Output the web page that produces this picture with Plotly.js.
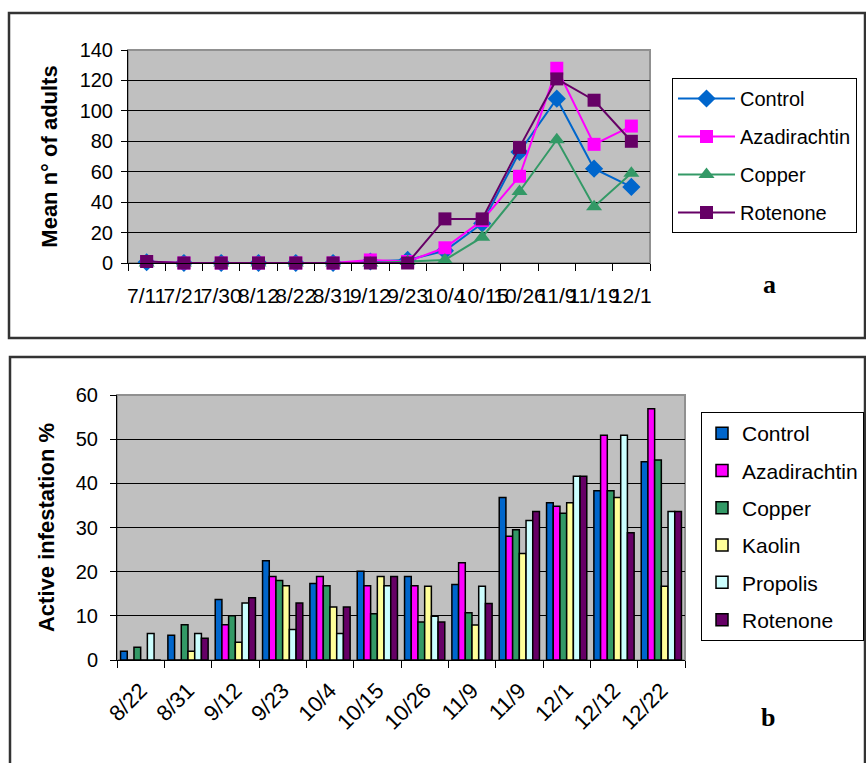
<!DOCTYPE html>
<html>
<head>
<meta charset="utf-8">
<script src="https://cdn.plot.ly/plotly-3.0.1.min.js"></script>
<style>html,body{margin:0;padding:0;background:#fff;}#chart{width:866px;height:763px;}</style>
</head>
<body>
<div id="chart"></div>
<script>
// ---- Panel a: mean number of adults ----
const datesA = ["7/11","7/21","7/30","8/12","8/22","8/31","9/12","9/23","10/4","10/15","10/26","11/9","11/19","12/1"];
const adultsControl      = [0.5, 0, 0, 0, 0, 0, 1, 2, 8, 26, 73, 108, 62, 50];
const adultsAzadirachtin = [1, 0, 0, 0, 0, 0, 2, 1, 10, 28, 57, 128, 78, 90];
const adultsCopper       = [0, 0, 0, 0, 0, 0, 0, 1, 2, 17, 47, 81, 37, 59];
const adultsRotenone     = [1, 0, 0, 0, 0, 0, 0, 0, 29, 29, 76, 121, 107, 80];
const yTicksA = [0, 20, 40, 60, 80, 100, 120, 140];

// ---- Panel b: active infestation % ----
const datesB = ["8/22","8/31","9/12","9/23","10/4","10/15","10/26","11/9","11/9","12/1","12/12","12/22"];
const infControl      = [2.0, 5.6, 13.7, 22.5, 17.3, 20.1, 18.9, 17.1, 36.8, 35.6, 38.3, 44.9];
const infAzadirachtin = [0, 0, 8.0, 18.9, 18.9, 16.8, 16.8, 22.0, 28.0, 34.8, 50.9, 56.9];
const infCopper       = [2.9, 8.0, 10.0, 18.0, 16.8, 10.5, 8.6, 10.7, 29.5, 33.2, 38.3, 45.3];
const infKaolin       = [0, 2.0, 4.0, 16.8, 12.0, 18.9, 16.7, 7.9, 24.1, 35.6, 36.8, 16.7];
const infPropolis     = [6.0, 6.0, 12.9, 6.9, 6.0, 16.8, 9.9, 16.7, 31.6, 41.6, 50.9, 33.6];
const infRotenone     = [0, 4.9, 14.1, 12.9, 12.0, 18.9, 8.6, 12.8, 33.6, 41.6, 28.8, 33.6];
const yTicksB = [0, 10, 20, 30, 40, 50, 60];

const W = 866, H = 763;
const px = v => v / W;          // x pixel -> paper
const py = v => 1 - v / H;      // y pixel (from top) -> paper

const idxA = datesA.map((d, i) => i);
const idxB = datesB.map((d, i) => i);

const lineSeries = [
  {name: "Control",      y: adultsControl,      color: "#0066CC", symbol: "diamond",     size: 14},
  {name: "Azadirachtin", y: adultsAzadirachtin, color: "#FF00FF", symbol: "square",      size: 13},
  {name: "Copper",       y: adultsCopper,       color: "#339966", symbol: "triangle-up", size: 14},
  {name: "Rotenone",     y: adultsRotenone,     color: "#660066", symbol: "square",      size: 13}
];
const barSeries = [
  {name: "Control",      y: infControl,      color: "#0066CC"},
  {name: "Azadirachtin", y: infAzadirachtin, color: "#FF00FF"},
  {name: "Copper",       y: infCopper,       color: "#339966"},
  {name: "Kaolin",       y: infKaolin,       color: "#FFFF99"},
  {name: "Propolis",     y: infPropolis,     color: "#CCFFFF"},
  {name: "Rotenone",     y: infRotenone,     color: "#660066"}
];

const traces = [];
lineSeries.forEach((s, i) => {
  traces.push({
    type: "scatter", mode: "lines+markers", name: s.name,
    x: idxA, y: s.y, xaxis: "x", yaxis: "y",
    line: {color: s.color, width: 2},
    marker: {symbol: s.symbol, size: s.size, color: s.color},
    legend: "legend", legendgroup: "a" + i, cliponaxis: false
  });
});
barSeries.forEach((s, i) => {
  traces.push({
    type: "bar", name: s.name,
    x: idxB, y: s.y, xaxis: "x2", yaxis: "y2",
    marker: {color: s.color, line: {color: "#000", width: 1.5}},
    legend: "legend2", legendgroup: "b" + i
  });
});

const fontMain = "Liberation Sans, Arial, sans-serif";

const layout = {
  width: W, height: H,
  margin: {l: 0, r: 0, t: 0, b: 0},
  paper_bgcolor: "#fff",
  plot_bgcolor: "#C0C0C0",
  font: {family: fontMain, color: "#000"},
  barmode: "group", bargap: 0.15, bargroupgap: 0,
  xaxis: {
    domain: [px(128), px(650)], anchor: "y",
    range: [-0.5, datesA.length - 0.5],
    tickmode: "array", tickvals: idxA, ticktext: datesA, ticks: "",
    minor: {tick0: -0.5, dtick: 1, ticks: "outside", ticklen: 7, tickcolor: "#000", tickwidth: 1},
    tickangle: 0, ticklabelstandoff: 14,
    tickfont: {size: 21, family: fontMain},
    showgrid: false, zeroline: false,
    showline: true, linecolor: "#000", linewidth: 1
  },
  yaxis: {
    domain: [py(263), py(50)], anchor: "x",
    range: [0, 140], tickmode: "array", tickvals: yTicksA,
    ticks: "outside", ticklen: 6, tickcolor: "#000", ticklabelstandoff: 4,
    tickfont: {size: 20, family: fontMain},
    showgrid: true, gridcolor: "#000", gridwidth: 1,
    zeroline: false, showline: true, linecolor: "#000", linewidth: 1,
    title: {text: "Mean n° of adults", font: {size: 22, family: fontMain, weight: "bold"}, standoff: 15}
  },
  xaxis2: {
    domain: [px(117), px(685)], anchor: "y2",
    range: [-0.5, datesB.length - 0.5],
    tickmode: "array", tickvals: idxB, ticktext: datesB, ticks: "",
    minor: {tick0: -0.5, dtick: 1, ticks: "outside", ticklen: 7, tickcolor: "#000", tickwidth: 1},
    tickangle: -45, ticklabelstandoff: 8,
    tickfont: {size: 22, family: fontMain},
    showgrid: false, zeroline: false,
    showline: true, linecolor: "#000", linewidth: 1
  },
  yaxis2: {
    domain: [py(660), py(395)], anchor: "x2",
    range: [0, 60], tickmode: "array", tickvals: yTicksB,
    ticks: "outside", ticklen: 6, tickcolor: "#000", ticklabelstandoff: 8,
    tickfont: {size: 20, family: fontMain},
    showgrid: true, gridcolor: "#000", gridwidth: 1,
    zeroline: false, showline: true, linecolor: "#000", linewidth: 1,
    title: {text: "Active infestation %", font: {size: 22, family: fontMain, weight: "bold"}, standoff: 15}
  },
  legend: {
    x: px(672), y: py(78), xanchor: "left", yanchor: "top",
    bordercolor: "#000", borderwidth: 1, bgcolor: "#fff",
    font: {size: 20, family: fontMain}, traceorder: "grouped", tracegroupgap: 9,
    itemwidth: 57
  },
  legend2: {
    x: px(701), y: py(412), xanchor: "left", yanchor: "top",
    bordercolor: "#000", borderwidth: 1, bgcolor: "#fff",
    font: {size: 21, family: fontMain}, traceorder: "grouped", tracegroupgap: 7,
    itemwidth: 30
  },
  shapes: [
    {type: "rect", xref: "paper", yref: "paper", x0: px(9), x1: px(865), y0: py(338), y1: py(13),
     line: {color: "#333", width: 2.5}, fillcolor: "rgba(0,0,0,0)", layer: "below"},
    {type: "rect", xref: "paper", yref: "paper", x0: px(10), x1: px(865), y0: py(765), y1: py(357),
     line: {color: "#333", width: 2.5}, fillcolor: "rgba(0,0,0,0)", layer: "below"},
    {type: "rect", xref: "paper", yref: "paper", x0: px(128), x1: px(650), y0: py(263), y1: py(50),
     line: {color: "#909090", width: 2}, fillcolor: "rgba(0,0,0,0)", layer: "below"},
    {type: "rect", xref: "paper", yref: "paper", x0: px(117), x1: px(685), y0: py(660), y1: py(395),
     line: {color: "#909090", width: 2}, fillcolor: "rgba(0,0,0,0)", layer: "below"}
  ],
  annotations: [
    {text: "<b>a</b>", xref: "paper", yref: "paper", x: px(769), y: py(285), xanchor: "center", yanchor: "middle",
     showarrow: false, font: {size: 26, family: "Liberation Serif, Times New Roman, serif"}},
    {text: "<b>b</b>", xref: "paper", yref: "paper", x: px(768), y: py(717), xanchor: "center", yanchor: "middle",
     showarrow: false, font: {size: 26, family: "Liberation Serif, Times New Roman, serif"}}
  ]
};

Plotly.newPlot("chart", traces, layout, {displayModeBar: false, staticPlot: true});
</script>
</body>
</html>
